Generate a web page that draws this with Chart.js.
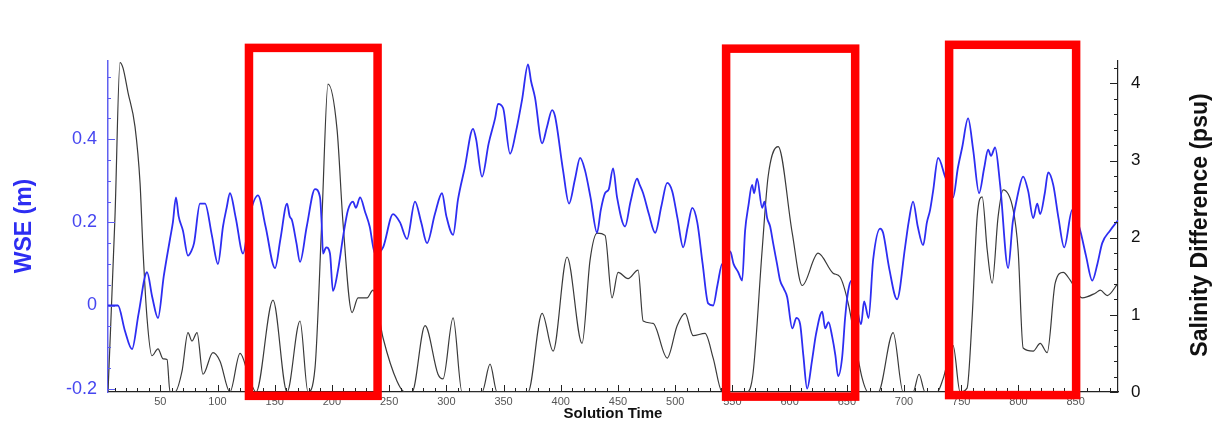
<!DOCTYPE html>
<html>
<head>
<meta charset="utf-8">
<title>WSE and Salinity Difference</title>
<script src="https://cdn.jsdelivr.net/npm/chart.js@4.4.1/dist/chart.umd.min.js"></script>
<style>
  html, body { margin: 0; padding: 0; background: #fff; }
  #wrap { width: 1215px; height: 421px; position: relative; }
</style>
</head>
<body>
<div id="wrap"><canvas id="wseChart"></canvas></div>
<script>
// ---------- DATA ----------
const wseTime = [4.3, 13, 19, 25.3, 31, 38.4, 43, 48, 53, 58.5, 61, 63.7, 66, 69.8, 74.2, 77, 79.5, 84.7, 89.1,
  95, 100.4, 104.8, 108, 110.9, 116, 122.3, 128.4, 135.4, 142, 150.3, 155, 160.8, 163, 165.1, 169, 172.1,
  178, 185.2, 189.6, 191, 192.2, 195, 198.3, 200.9, 205.3, 210, 214.1, 218.4, 221, 224.6, 229, 233,
  237.7, 244.7, 253.4, 259.5, 265.6, 272.6, 278, 283.1, 290, 296.2, 300, 305.9, 310.2, 316, 323.3, 326,
  331.2, 337, 342.6, 345.2, 349.6, 355.7, 361, 366.2, 371.4, 374, 377.5, 383.7, 388, 392.4, 395, 402,
  407.2, 412.5, 416.9, 421.2, 426, 431.7, 435, 438.7, 442, 445.7, 449.2, 456.2, 461, 466.7, 469, 472,
  477, 482.5, 488, 493, 497.4, 502, 507, 511, 514.9, 519.3, 524, 528.8, 533.2, 537, 541.1, 544, 548.1,
  551, 555.1, 558.5, 561.1, 564, 567.2, 569, 571.6, 576, 578, 580.4, 583, 585.6, 589, 591.7, 595, 597.9,
  602.3, 606, 609.2, 612, 615.3, 619.7, 623, 628.5, 631.1, 634, 637.2, 640, 642.4, 645.9, 648.5, 651.2,
  654, 657.3, 662.5, 665.1, 669, 673, 679.1, 681.7, 687, 693.9, 700.9, 704, 707.9, 712, 716.7, 720,
  722.8, 725.4, 729.8, 735.9, 742.9, 747, 750.8, 756, 760.4, 765.6, 770, 773.5, 776, 779.6, 784, 791,
  795, 798.9, 804.1, 808.5, 812.9, 816.4, 819, 823, 826, 830.4, 835, 840, 847, 854, 859, 864.5, 869,
  873.2, 880, 887];
const wseLevel = [0.0, 0.0, -0.06, -0.105, -0.02, 0.08, 0.02, -0.03, 0.07, 0.16, 0.2, 0.26, 0.215, 0.18,
  0.12, 0.13, 0.15, 0.245, 0.245, 0.17, 0.1, 0.19, 0.235, 0.27, 0.21, 0.125, 0.22, 0.265, 0.19, 0.09,
  0.16, 0.245, 0.215, 0.205, 0.15, 0.105, 0.19, 0.28, 0.26, 0.2, 0.125, 0.14, 0.125, 0.035, 0.085, 0.17,
  0.23, 0.25, 0.235, 0.26, 0.225, 0.19, 0.125, 0.14, 0.22, 0.2, 0.16, 0.25, 0.2, 0.15, 0.22, 0.27, 0.215,
  0.17, 0.255, 0.33, 0.425, 0.4, 0.31, 0.39, 0.45, 0.485, 0.475, 0.365, 0.42, 0.495, 0.58, 0.54, 0.5,
  0.39, 0.43, 0.47, 0.455, 0.325, 0.245, 0.305, 0.355, 0.325, 0.26, 0.175, 0.23, 0.27, 0.28, 0.33, 0.26,
  0.19, 0.25, 0.305, 0.29, 0.27, 0.22, 0.175, 0.24, 0.295, 0.275, 0.21, 0.14, 0.19, 0.235, 0.2, 0.1,
  0.005, 0.0, 0.05, 0.1, 0.085, 0.13, 0.1, 0.08, 0.06, 0.18, 0.24, 0.29, 0.27, 0.305, 0.235, 0.25, 0.21,
  0.19, 0.15, 0.1, 0.06, 0.04, 0.02, -0.055, -0.03, -0.045, -0.12, -0.2, -0.13, -0.07, -0.015, -0.055,
  -0.04, -0.075, -0.12, -0.17, -0.125, -0.03, 0.035, 0.06, 0.02, -0.045, 0.01, -0.03, 0.11, 0.185, 0.175,
  0.09, 0.015, 0.14, 0.2, 0.25, 0.19, 0.145, 0.2, 0.23, 0.275, 0.355, 0.31, 0.26, 0.33, 0.38, 0.45, 0.375,
  0.27, 0.33, 0.375, 0.36, 0.38, 0.29, 0.09, 0.2, 0.26, 0.31, 0.275, 0.21, 0.245, 0.22, 0.27, 0.32, 0.29,
  0.21, 0.14, 0.23, 0.18, 0.12, 0.06, 0.1, 0.15, 0.18, 0.205];

const salTime = [4.3, 10.4, 14.8, 17.4, 21.8, 27.9, 32.3, 34.9, 38.4, 42.7, 48, 52.4, 55.9, 58.5, 62.8,
  69, 74.2, 77.7, 82.1, 87.3, 96, 102.2, 110.9, 119.7, 128.4, 133.7, 148.5, 160.8, 172.1, 179.1, 185.2,
  191.3, 196.6, 204.5, 209.7, 217.6, 222.8, 230.7, 235.9, 244.7, 256.9, 263.9, 270, 281.4, 292.7, 297.1,
  305.9, 313.7, 331.2, 338.2, 344.3, 371.4, 383.7, 393.3, 405.5, 418.6, 425.6, 431.7, 438.7, 444.8,
  450.1, 458.8, 467.6, 472, 480.7, 493, 501.7, 508.7, 515.7, 526.1, 533.2, 541.1, 562.8, 568.1, 576,
  581.2, 590, 602.3, 611, 624.9, 638, 644.1, 651.2, 663.4, 668.6, 677.4, 690.5, 699.2, 707.9, 713.1,
  718.4, 728.9, 734.1, 742.9, 749, 755.1, 759.5, 763.9, 768.3, 772.7, 777, 782.2, 786.6, 795.4, 799.7,
  804.1, 812.9, 819, 825.1, 832.1, 839.1, 845.2, 855.7, 867.1, 871.5, 877.6, 887];
const salDiff = [0, 2.27, 4.27, 4.2, 3.88, 3.44, 2.71, 1.84, 0.96, 0.47, 0.56, 0.43, 0.42, 0, 0, 0.27,
  0.77, 0.66, 0.77, 0.23, 0.51, 0.4, 0, 0.5, 0.15, 0, 1.19, 0, 0.92, 0, 0.31, 2.27, 3.99, 3.4, 2.19, 1.03,
  1.22, 1.22, 1.32, 0.7, 0.14, 0, 0, 0.86, 0.23, 0.17, 0.96, 0, 0, 0.36, 0, 0, 1.02, 0.53, 1.75, 0.63,
  1.71, 2.06, 2.03, 1.22, 1.55, 1.47, 1.58, 0.92, 0.89, 0.44, 0.86, 1.02, 0.73, 0.76, 0.44, 0, 0, 0.25,
  1.84, 2.79, 3.18, 2.06, 1.38, 1.8, 1.54, 1.49, 1.15, 0.18, 0, 0, 0.77, 0, 0, 0.23, 0, 0, 0.17, 0.6, 0,
  0.05, 0.96, 2.27, 2.53, 1.84, 1.41, 2.27, 2.62, 2.36, 1.84, 0.57, 0.53, 0.63, 0.51, 1.41, 1.55, 1.45,
  1.22, 1.28, 1.32, 1.25, 1.41];

const timeTicks = [50, 100, 150, 200, 250, 300, 350, 400, 450, 500, 550, 600, 650, 700, 750, 800, 850];
const wseTicks = [-0.2, 0, 0.2, 0.4];
const salTicks = [0, 1, 2, 3, 4];

// highlighted time windows (red boxes), top/bottom on salinity axis
const highlightStart = [127.5, 544.5, 739.4];
const highlightEnd = [239.9, 657.3, 850.4];
const highlightTop = [4.46, 4.45, 4.5];
const highlightBottom = [-0.05, -0.06, -0.04];

const BLUE = "#2d2df2";
const FONT = "'Liberation Sans', Arial, sans-serif";

// ---------- HELPERS ----------
function toPoints(xs, ys) {
  return xs.map((x, i) => ({ x: x, y: ys[i] }));
}

function fixedTicks(values) {
  return (scale) => {
    scale.ticks = values.map((v) => ({ value: v }));
  };
}

function line(ctx, x1, y1, x2, y2) {
  ctx.beginPath();
  ctx.moveTo(x1, y1);
  ctx.lineTo(x2, y2);
  ctx.stroke();
}

// ---------- DECORATION PLUGIN ----------
// inward ticks, axis titles and the red highlight boxes
const decorPlugin = {
  id: "decor",
  afterDraw(chart) {
    const { ctx, chartArea: a, scales } = chart;
    const x = scales.x, yl = scales.yWse, yr = scales.ySal;
    ctx.save();

    // x ticks
    ctx.strokeStyle = "#222";
    ctx.lineWidth = 1;
    for (let t = 10; t < x.max; t += 10) {
      const px = Math.round(x.getPixelForValue(t)) + 0.5;
      line(ctx, px, a.bottom, px, a.bottom - (t % 50 === 0 ? 7 : 4));
    }
    // left ticks
    ctx.strokeStyle = "#5a5af0";
    for (let k = -4; k <= 11; k++) {
      const v = k * 0.05;
      if (v < yl.min || v > yl.max) continue;
      const py = Math.round(yl.getPixelForValue(v)) + 0.5;
      line(ctx, a.left, py, a.left + (k % 4 === 0 ? 7 : 3), py);
    }
    // right ticks
    ctx.strokeStyle = "#222";
    for (let k = 0; k <= 21; k++) {
      const v = k * 0.2;
      if (v > yr.max) continue;
      const py = Math.round(yr.getPixelForValue(v)) + 0.5;
      line(ctx, a.right, py, a.right - (k % 5 === 0 ? 8 : 4), py);
    }

    // axis titles
    ctx.textAlign = "center";
    ctx.textBaseline = "middle";
    ctx.fillStyle = BLUE;
    ctx.font = "bold 23px " + FONT;
    ctx.save();
    ctx.translate(25, 226);
    ctx.rotate(-Math.PI / 2);
    ctx.fillText("WSE (m)", 0, 0);
    ctx.restore();

    ctx.fillStyle = "#111";
    ctx.save();
    ctx.translate(1201, 225);
    ctx.rotate(-Math.PI / 2);
    ctx.fillText("Salinity Difference (psu)", 0, 0);
    ctx.restore();

    ctx.font = "bold 15px " + FONT;
    ctx.fillText("Solution Time", 613, 414);

    // highlight boxes
    ctx.strokeStyle = "#ff0000";
    ctx.lineWidth = 8.5;
    highlightStart.forEach((s, i) => {
      const x1 = x.getPixelForValue(s);
      const x2 = x.getPixelForValue(highlightEnd[i]);
      const y1 = yr.getPixelForValue(highlightTop[i]);
      const y2 = yr.getPixelForValue(highlightBottom[i]);
      ctx.strokeRect(x1, y1, x2 - x1, y2 - y1);
    });
    ctx.restore();
  },
};

// ---------- CHART ----------
new Chart(document.getElementById("wseChart"), {
  type: "line",
  data: {
    datasets: [
      {
        label: "WSE (m)",
        data: toPoints(wseTime, wseLevel),
        yAxisID: "yWse",
        borderColor: BLUE,
        borderWidth: 1.8,
        pointRadius: 0,
        cubicInterpolationMode: "monotone",
      },
      {
        label: "Salinity Difference (psu)",
        data: toPoints(salTime, salDiff),
        yAxisID: "ySal",
        borderColor: "#3a3a3a",
        borderWidth: 1.2,
        pointRadius: 0,
        cubicInterpolationMode: "monotone",
      },
    ],
  },
  options: {
    responsive: true,
    maintainAspectRatio: false,
    animation: false,
    layout: { padding: { top: 61, left: 0, right: 0, bottom: 0 } },
    plugins: { legend: { display: false }, tooltip: { enabled: false } },
    scales: {
      x: {
        type: "linear",
        min: 4.3,
        max: 887,
        afterBuildTicks: fixedTicks(timeTicks),
        afterFit: (s) => { s.height = 29; },
        grid: { display: false, drawTicks: false },
        border: { display: true, color: "#222", width: 1.2 },
        ticks: {
          padding: 3,
          autoSkip: false,
          maxRotation: 0,
          color: "#555",
          font: { family: FONT, size: 11 },
        },
      },
      yWse: {
        position: "left",
        min: -0.208,
        max: 0.588,
        afterBuildTicks: fixedTicks(wseTicks),
        afterFit: (s) => { s.width = 108; },
        grid: { display: false, drawTicks: false },
        border: { display: true, color: "#6060f0", width: 1.5 },
        ticks: {
          padding: 11,
          color: "#4646f0",
          font: { family: FONT, size: 18 },
          callback: (v) => (v === 0 ? "0" : v.toFixed(1)),
        },
      },
      ySal: {
        position: "right",
        min: 0,
        max: 4.29,
        afterBuildTicks: fixedTicks(salTicks),
        afterFit: (s) => { s.width = 97; },
        grid: { display: false, drawTicks: false },
        border: { display: true, color: "#222", width: 1.2 },
        ticks: {
          padding: 13,
          color: "#111",
          font: { family: FONT, size: 17 },
          callback: (v) => String(v),
        },
      },
    },
  },
  plugins: [decorPlugin],
});
</script>
</body>
</html>
